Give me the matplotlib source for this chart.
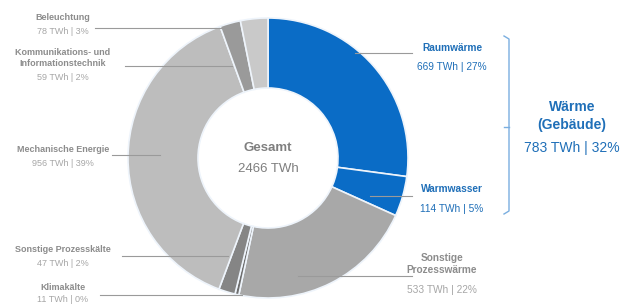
import matplotlib
matplotlib.use("Agg")
import matplotlib.pyplot as plt

plt.rcParams['font.family'] = ['Liberation Sans', 'DejaVu Sans']

# data (clockwise from top)
names = ["Raumwärme", "Warmwasser", "Sonstige\nProzesswärme", "Klimakälte",
         "Sonstige Prozesskälte", "Mechanische Energie",
         "Kommunikations- und\nInformationstechnik", "Beleuchtung"]
twh = [669, 114, 533, 11, 47, 956, 59, 78]
pct = [27, 5, 22, 0, 2, 39, 2, 3]
colors = ["#0a6cc6", "#0a6cc6", "#a8a8a8", "#6e6e6e", "#858585",
          "#bdbdbd", "#9a9a9a", "#c9c9c9"]
total = 2466
group_name = "Wärme\n(Gebäude)"
group_twh = 783
group_pct = 32

W, H = 635, 305
fig = plt.figure(figsize=(W / 100, H / 100), dpi=100)
ax = fig.add_axes([0, 0, 1, 1])

cx, cy, R = 268, H - 158, 140
ax.pie(twh, colors=colors, startangle=90, counterclock=False, radius=R,
       center=(cx, cy), frame=True,
       wedgeprops=dict(width=R * 0.5, edgecolor='#eef4fb', linewidth=1.2))
ax.set_xlim(0, W)
ax.set_ylim(0, H)
ax.axis('off')

ax.text(cx, cy + 10, "Gesamt", ha='center', va='center', fontsize=9.5,
        fontweight='bold', color='#7f7f7f')
ax.text(cx, cy - 11, f"{total} TWh", ha='center', va='center', fontsize=9.5,
        color='#7f7f7f')

grey_t, grey_v, blue = '#8c8c8c', '#a6a6a6', '#1f6fb8'
lc = '#9a9a9a'

# label layout: (x, y of title, y of value, leader x0, x1, leader y)
layout = {
    0: (452, 48, 67, 355, 412, 53),
    1: (452, 189, 209, 370, 412, 196),
    2: (442, 264, 290, 298, 412, 276),
    3: (63, 287, 300, 100, 242, 295),
    4: (63, 249, 264, 122, 228, 256),
    5: (63, 149, 163, 112, 160, 155),
    6: (63, 58, 77, 125, 232, 66),
    7: (63, 18, 31, 95, 226, 28),
}
for i, (x, yt, yv, x0, x1, ly) in layout.items():
    is_blue = i < 2
    ct = blue if is_blue else grey_t
    cv = blue if is_blue else grey_v
    fs = 7.3 if is_blue or i == 2 else 6.5
    ax.text(x, H - yt, names[i], ha='center', va='center', fontsize=fs,
            fontweight='bold', color=ct, linespacing=1.3)
    ax.text(x, H - yv, f"{twh[i]} TWh | {pct[i]}%", ha='center', va='center',
            fontsize=fs, color=cv)
    ax.plot([x0, x1], [H - ly, H - ly], color=lc, lw=0.8)

# bracket for heat in buildings
bx = 509
ax.plot([bx - 5, bx, bx, bx - 5], [H - 36, H - 39, H - 211, H - 214],
        color='#7aaee0', lw=1)
ax.plot([bx - 5, bx], [H - 127, H - 127], color='#7aaee0', lw=1)
ax.text(572, H - 116, group_name, ha='center', va='center', fontsize=10,
        fontweight='bold', color=blue, linespacing=1.3)
ax.text(572, H - 148, f"{group_twh} TWh | {group_pct}%", ha='center',
        va='center', fontsize=10, color=blue)

fig.savefig("out.png", dpi=100)
